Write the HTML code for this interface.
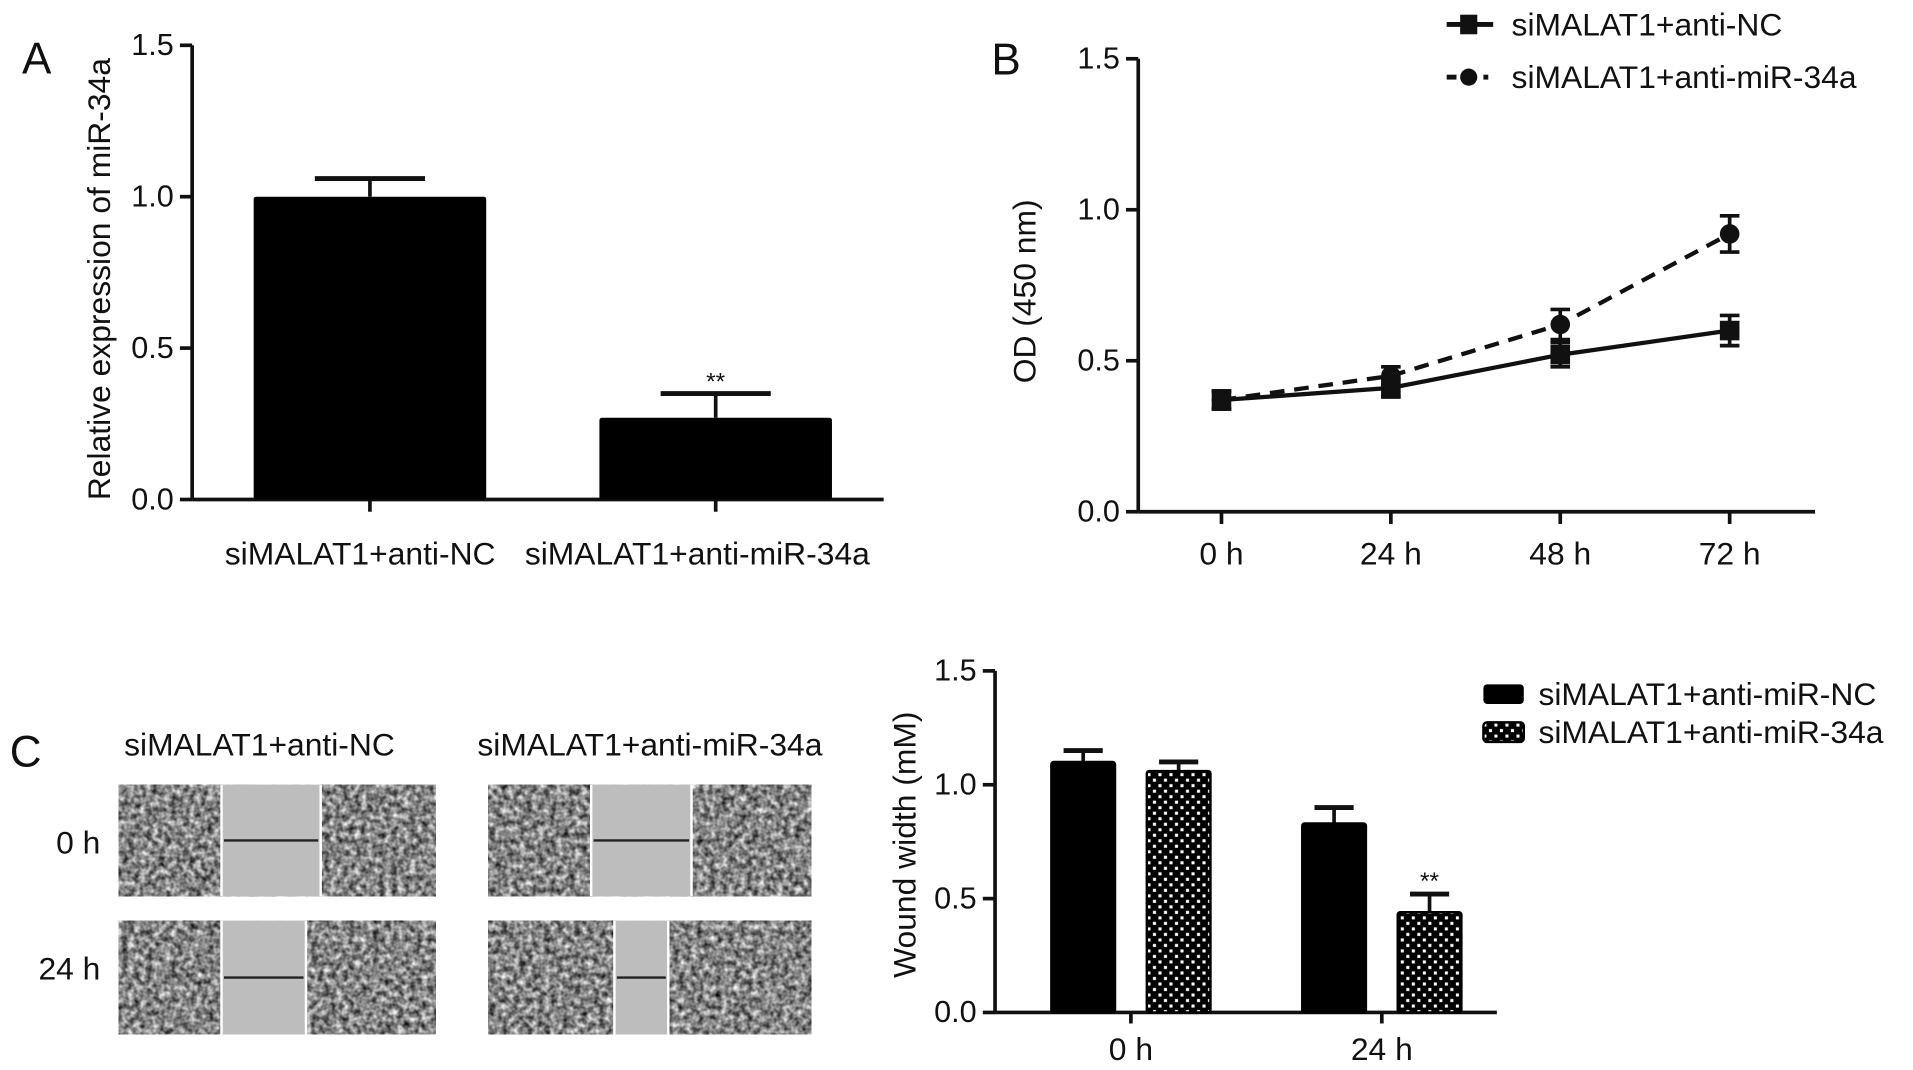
<!DOCTYPE html>
<html><head><meta charset="utf-8"><style>
html,body{margin:0;padding:0;background:#fff;}
svg{display:block;}
text{font-family:"Liberation Sans",sans-serif;fill:#111;}
</style></head><body>
<svg id="fig" width="1913" height="1070" viewBox="0 0 1563 874" preserveAspectRatio="none" xmlns="http://www.w3.org/2000/svg">
<defs>
<pattern id="checker" width="9" height="9" patternUnits="userSpaceOnUse">
<rect width="9" height="9" fill="#000"/><rect x="1.5" y="1.5" width="2.5" height="2.5" fill="#fff"/><rect x="6" y="6" width="2.5" height="2.5" fill="#fff"/>
</pattern>
<filter id="cells" x="0" y="0" width="1" height="1" filterUnits="objectBoundingBox" color-interpolation-filters="sRGB">
<feTurbulence type="fractalNoise" baseFrequency="0.2" numOctaves="2" seed="3" result="n"/>
<feColorMatrix in="n" type="matrix" values="1.2 0 0 0 -0.08  1.2 0 0 0 -0.08  1.2 0 0 0 -0.08  0 0 0 0 1"/>
</filter>
</defs>
<g id="root"></g>
</svg>
<script>
// ---------- Panel A data ----------
const aCategories = ["siMALAT1+anti-NC", "siMALAT1+anti-miR-34a"];
const aValues = [1.0, 0.27];
const aErrors = [0.06, 0.08];
const aSig = ["", "**"];
const aTicks = [0.0, 0.5, 1.0, 1.5];
const aTickLabels = ["0.0", "0.5", "1.0", "1.5"];
// ---------- Panel B data ----------
const bCategories = ["0 h", "24 h", "48 h", "72 h"];
const bSeriesNames = ["siMALAT1+anti-NC", "siMALAT1+anti-miR-34a"];
const bNC = [0.37, 0.41, 0.52, 0.60];
const bNCErr = [0.03, 0.03, 0.04, 0.05];
const bMiR = [0.37, 0.45, 0.62, 0.92];
const bMiRErr = [0.03, 0.03, 0.05, 0.06];
const bTicks = [0.0, 0.5, 1.0, 1.5];
const bTickLabels = ["0.0", "0.5", "1.0", "1.5"];
// ---------- Panel C data ----------
const cCategories = ["0 h", "24 h"];
const cSeriesNames = ["siMALAT1+anti-miR-NC", "siMALAT1+anti-miR-34a"];
const cNC = [1.10, 0.83];
const cNCErr = [0.05, 0.07];
const cMiR = [1.06, 0.44];
const cMiRErr = [0.04, 0.08];
const cSig = ["", "**"];
const cTicks = [0.0, 0.5, 1.0, 1.5];
const cTickLabels = ["0.0", "0.5", "1.0", "1.5"];

const NS = "http://www.w3.org/2000/svg";
const root = document.getElementById("root");
function mk(tag, attrs, parent, txt){
  const e = document.createElementNS(NS, tag);
  for (const k in attrs) e.setAttribute(k, attrs[k]);
  if (txt !== undefined) e.textContent = txt;
  (parent || root).appendChild(e);
  return e;
}
function yScale(y0, y1, max){ return v => y0 - (v / max) * (y0 - y1); }
function axisY(g, x, yS, ticks, labels, fs){
  mk("line",{x1:x,y1:yS(0),x2:x,y2:yS(1.5),stroke:"#111","stroke-width":3},g);
  ticks.forEach((t,i)=>{
    const tk = mk("line",{x1:x-10,y1:yS(t),x2:x,y2:yS(t),stroke:"#111","stroke-width":3},g);
    
    
    const lb = mk("text",{x:x-15,y:yS(t)+8,"text-anchor":"end","font-size":fs},g,labels[i]);
    
    
  });
}
function errBar(g, cx, yTop, yErr, half){
  mk("line",{x1:cx,y1:yTop,x2:cx,y2:yErr,stroke:"#111","stroke-width":3},g);
  mk("line",{x1:cx-half,y1:yErr,x2:cx+half,y2:yErr,stroke:"#111","stroke-width":4},g);
}

// ================= Panel A =================
(function(){
  const g = mk("g",{});  
  const x0 = 157, x1 = 722, yS = yScale(408, 37, 1.5);
  const t = mk("text",{x:18,y:60,"font-size":36},g,"A");  
  axisY(g, x0, yS, aTicks, aTickLabels, 25);
  mk("line",{x1:x0,y1:408,x2:x1,y2:408,stroke:"#111","stroke-width":3},g);
  const yl = mk("text",{transform:"translate(90,228) rotate(-90)","text-anchor":"middle","font-size":26},g,"Relative expression of miR-34a");
   
  const step = (x1 - x0) / aCategories.length, bw = 190;
  aCategories.forEach((c,i)=>{
    const cx = x0 + step*(i+0.5) + 4;
    errBar(g, cx, yS(aValues[i]), yS(aValues[i]+aErrors[i]), 45);
    const b = mk("rect",{x:cx-bw/2,y:yS(aValues[i]),width:bw,height:408-yS(aValues[i]),fill:"#000",rx:2},g);
     
    mk("line",{x1:cx,y1:408,x2:cx,y2:418,stroke:"#111","stroke-width":3},g);
    const lb = mk("text",{x:cx-8+i*-7,y:461,"text-anchor":"middle","font-size":26},g,c);
     
    if (aSig[i]) { const s = mk("text",{x:cx,y:318,"text-anchor":"middle","font-size":20},g,aSig[i]);   }
  });
})();

// ================= Panel B =================
(function(){
  const g = mk("g",{});  
  const x0 = 930, x1 = 1483, yS = yScale(418, 48, 1.5);
  const t = mk("text",{x:810,y:61,"font-size":36},g,"B");  
  axisY(g, x0, yS, bTicks, bTickLabels, 25);
  mk("line",{x1:x0,y1:418,x2:x1,y2:418,stroke:"#111","stroke-width":3},g);
  const yl = mk("text",{transform:"translate(846,238) rotate(-90)","text-anchor":"middle","font-size":26},g,"OD (450 nm)");
   
  const xS = i => 998 + i*138.4;
  bCategories.forEach((c,i)=>{
    mk("line",{x1:xS(i),y1:418,x2:xS(i),y2:428,stroke:"#111","stroke-width":3},g);
    const lb = mk("text",{x:xS(i),y:461,"text-anchor":"middle","font-size":26},g,c);
     
  });
  const series = [[bNC,bNCErr,"none","sq"],[bMiR,bMiRErr,"12,8","ci"]];
  series.forEach((s,si)=>{
    const pts = s[0].map((v,i)=>xS(i)+","+yS(v)).join(" ");
    const pl = mk("polyline",{points:pts,fill:"none",stroke:"#111","stroke-width":3.5,"stroke-dasharray":s[2]},g);
     
    s[0].forEach((v,i)=>{
      const cx = xS(i);
      mk("line",{x1:cx,y1:yS(v-s[1][i]),x2:cx,y2:yS(v+s[1][i]),stroke:"#111","stroke-width":3},g);
      mk("line",{x1:cx-8,y1:yS(v+s[1][i]),x2:cx+8,y2:yS(v+s[1][i]),stroke:"#111","stroke-width":3},g);
      mk("line",{x1:cx-8,y1:yS(v-s[1][i]),x2:cx+8,y2:yS(v-s[1][i]),stroke:"#111","stroke-width":3},g);
      const m = s[3]==="sq" ? mk("rect",{x:cx-8,y:yS(v)-8,width:16,height:16,fill:"#111"},g)
                           : mk("circle",{cx:cx,cy:yS(v),r:8,fill:"#111"},g);
       
    });
  });
  const l1 = mk("g",{},g);  
  mk("line",{x1:1182,y1:20,x2:1220,y2:20,stroke:"#111","stroke-width":4},l1);
  mk("rect",{x:1193,y:12,width:14,height:16,fill:"#111"},l1);
  mk("text",{x:1235,y:29,"font-size":26},l1,bSeriesNames[0]);
  const l2 = mk("g",{},g);  
  mk("line",{x1:1182,y1:63,x2:1190,y2:63,stroke:"#111","stroke-width":4},l2);
  mk("circle",{cx:1200,cy:63,r:7,fill:"#111"},l2);
  mk("rect",{x:1212,y:61,width:4,height:4,fill:"#111"},l2);
  mk("text",{x:1235,y:72,"font-size":26},l2,bSeriesNames[1]);
})();

// ================= Panel C images =================
(function(){
  const g = mk("g",{});  
  const t = mk("text",{x:8,y:626,"font-size":36},g,"C");  
  const h1 = mk("text",{x:212,y:617,"text-anchor":"middle","font-size":26},g,"siMALAT1+anti-NC");  
  const h2 = mk("text",{x:531,y:617,"text-anchor":"middle","font-size":26},g,"siMALAT1+anti-miR-34a");  
  const r1 = mk("text",{x:82,y:697,"text-anchor":"end","font-size":26},g,"0 h");  
  const r2 = mk("text",{x:82,y:800,"text-anchor":"end","font-size":26},g,"24 h");  
  const imgs = [[97,641,356,732,181,262],[97,752,356,845,181,250],[399,641,663,732,483,565],[399,752,663,845,502,546]];
  imgs.forEach(p=>{
    const ig = mk("g",{},g);  
    mk("rect",{x:p[0],y:p[1],width:p[2]-p[0],height:p[3]-p[1],fill:"#8e8e8e"},ig);
    mk("rect",{x:p[0],y:p[1],width:p[2]-p[0],height:p[3]-p[1],fill:"#888",filter:"url(#cells)"},ig);
    mk("rect",{x:p[4]-1,y:p[1],width:p[5]-p[4]+2,height:p[3]-p[1],fill:"#fff"},ig);
    mk("rect",{x:p[4]+1,y:p[1],width:p[5]-p[4]-2,height:p[3]-p[1],fill:"#bdbdbd"},ig);
    mk("line",{x1:p[4]+2,y1:(p[1]+p[3])/2,x2:p[5]-2,y2:(p[1]+p[3])/2,stroke:"#222","stroke-width":2},ig);
  });
})();

// ================= Panel C chart =================
(function(){
  const g = mk("g",{});  
  const x0 = 813, x1 = 1223, yS = yScale(827, 548, 1.5);
  axisY(g, x0, yS, cTicks, cTickLabels, 25);
  mk("line",{x1:x0,y1:827,x2:x1,y2:827,stroke:"#111","stroke-width":3},g);
  const yl = mk("text",{transform:"translate(748,690) rotate(-90)","text-anchor":"middle","font-size":26},g,"Wound width (mM)");
   
  const centers = [924, 1129], bw = 52, off = 39;
  cCategories.forEach((c,i)=>{
    const cx = centers[i];
    mk("line",{x1:cx,y1:827,x2:cx,y2:836,stroke:"#111","stroke-width":3},g);
    const lb = mk("text",{x:cx,y:866,"text-anchor":"middle","font-size":26},g,c);
     
    [[cNC,cNCErr,"#000",-off],[cMiR,cMiRErr,"url(#checker)",off]].forEach((s,si)=>{
      const bx = cx + s[3], v = s[0][i];
      errBar(g, bx, yS(v), yS(v+s[1][i]), 16);
      const b = mk("rect",{x:bx-bw/2,y:yS(v),width:bw,height:827-yS(v),fill:s[2],stroke:"#000","stroke-width":2,rx:2},g);
       
    });
    if (cSig[i]) { const s = mk("text",{x:cx+off,y:726,"text-anchor":"middle","font-size":20},g,cSig[i]);   }
  });
  const l1 = mk("g",{},g);  
  mk("rect",{x:1212,y:559,width:33,height:16,rx:3,fill:"#000"},l1);
  mk("text",{x:1257,y:576,"font-size":26},l1,cSeriesNames[0]);
  const l2 = mk("g",{},g);  
  mk("rect",{x:1212,y:590,width:33,height:16,rx:3,fill:"url(#checker)",stroke:"#000","stroke-width":2},l2);
  mk("text",{x:1257,y:607,"font-size":26},l2,cSeriesNames[1]);
})();
</script>
</body></html>
